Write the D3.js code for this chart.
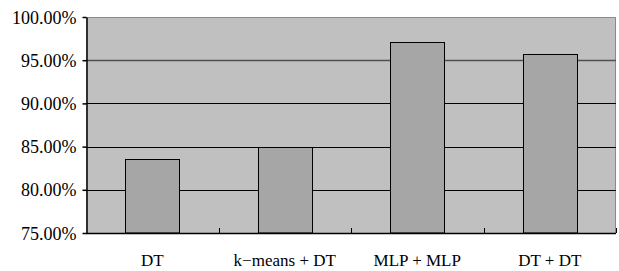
<!DOCTYPE html>
<html><head><meta charset="utf-8">
<script src="https://cdn.jsdelivr.net/npm/d3@7"></script>
<style>
body{margin:0;background:#fff}
svg{display:block}
svg text{font-family:"Liberation Serif",Tinos,"Times New Roman",serif;fill:#000}
</style>
</head><body>
<svg id="chart" width="619" height="271"></svg>
<script>
const categories = ["DT", "k\u2212means + DT", "MLP + MLP", "DT + DT"];
const accuracy = [0.836, 0.850, 0.9707, 0.9572];
const yTicks = [0.75, 0.80, 0.85, 0.90, 0.95, 1.00];

const svg = d3.select("#chart");
const L = 86, R = 616, T = 17, B = 233;
const xb = d3.scaleBand().domain(categories).range([L, R]);
const x = d3.scaleBand().domain(categories).range([L, R]).paddingInner(0.59).paddingOuter(0.295);
const y = d3.scaleLinear().domain([0.75, 1.0]).range([B, T]);

svg.append("rect").attr("x", L).attr("y", T).attr("width", R - L).attr("height", B - T).attr("fill", "#c0c0c0");
svg.append("path").attr("d", `M${L},${T + 0.5}H${R - 0.5}V${B}`).attr("fill", "none").attr("stroke", "#8a8a8a");

svg.append("g").selectAll("line").data(yTicks.filter(d => d > 0.75 && d < 1)).join("line")
  .attr("x1", L).attr("x2", R)
  .attr("y1", d => Math.round(y(d)) + 0.5).attr("y2", d => Math.round(y(d)) + 0.5)
  .attr("stroke", d => d === 0.95 ? "#505050" : "#000").attr("stroke-width", d => d === 0.95 ? 1.5 : 1);

svg.append("g").selectAll("rect").data(categories).join("rect")
  .attr("x", d => Math.round(x(d)) + 0.5).attr("width", Math.round(x.bandwidth()))
  .attr("y", (d, i) => Math.round(y(accuracy[i])) + 0.5)
  .attr("height", (d, i) => B - Math.round(y(accuracy[i])) - 0.5)
  .attr("fill", "#a6a6a6").attr("stroke", "#000");

const gy = svg.append("g").attr("transform", `translate(${L + 0.5},0)`)
  .call(d3.axisLeft(y).tickValues(yTicks).tickSize(4).tickSizeOuter(0).tickFormat(d3.format(".2%")));
gy.attr("font-family", null).attr("font-size", null);
gy.select(".domain").attr("stroke", "#000").attr("stroke-width", 1.5);
gy.selectAll(".tick line").attr("stroke", "#000").attr("stroke-width", 1.5);
gy.selectAll(".tick text").attr("x", -10).attr("dy", "0.34em").attr("font-size", 18);

const gx = svg.append("g").attr("transform", `translate(0,${B})`);
gx.append("line").attr("x1", L).attr("x2", R).attr("y1", 0.5).attr("y2", 0.5).attr("stroke", "#000").attr("stroke-width", 1.5);
gx.selectAll("line.t").data(categories).join("line").attr("class", "t")
  .attr("x1", d => Math.round(xb(d) + xb.bandwidth()) + 0.5)
  .attr("x2", d => Math.round(xb(d) + xb.bandwidth()) + 0.5)
  .attr("y1", 0).attr("y2", -5).attr("stroke", "#000");
gx.selectAll("text").data(categories).join("text")
  .attr("x", d => xb(d) + xb.bandwidth() / 2).attr("y", 33)
  .attr("text-anchor", "middle").attr("font-size", 17)
  .text(d => d);
</script>
</body></html>
